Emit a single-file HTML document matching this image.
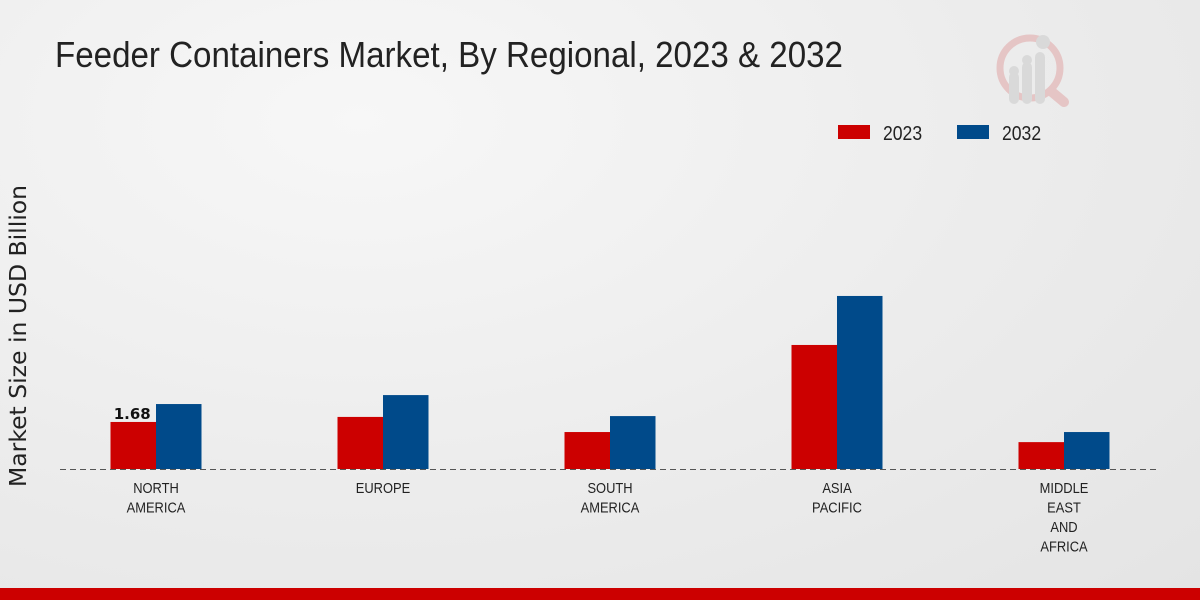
<!DOCTYPE html>
<html><head><meta charset="utf-8"><style>
html,body{margin:0;padding:0}
body{width:1200px;height:600px;overflow:hidden;background:radial-gradient(ellipse at 30% 20%,#f7f7f7 0%,#ececec 55%,#e4e4e4 100%);font-family:"Liberation Sans",sans-serif;position:relative}
#title{position:absolute;left:55px;top:34px;font-size:36px;color:#222;transform:scaleX(0.92);transform-origin:left top;white-space:nowrap}
#bottom{position:absolute;left:0;top:588px;width:1200px;height:12px;background:#cc0000}
svg{position:absolute;left:0;top:0}
</style></head><body>
<div id="title">Feeder Containers Market, By Regional, 2023 &amp; 2032</div>
<svg id="chart" width="1200" height="600">
<g opacity="0.5">
<circle cx="1030" cy="68" r="30" fill="none" stroke="#e0a0a0" stroke-width="7"/>
<line x1="1052" y1="92" x2="1064" y2="102" stroke="#e0a0a0" stroke-width="10" stroke-linecap="round"/>
<rect x="1009" y="72" width="10" height="32" rx="5" fill="#c8c8c8"/>
<rect x="1022" y="62" width="10" height="42" rx="5" fill="#c8c8c8"/>
<rect x="1035" y="52" width="10" height="52" rx="5" fill="#c8c8c8"/>
<circle cx="1014" cy="71" r="5" fill="#c8c8c8"/><circle cx="1027" cy="60" r="5" fill="#c8c8c8"/><circle cx="1043" cy="42" r="7" fill="#c8c8c8"/>
</g>
<text x="26" y="336" transform="rotate(-90 26 336)" text-anchor="middle" font-size="23.5" fill="#222" font-family="DejaVu Sans, sans-serif">Market Size in USD Billion</text>
<g>
<rect x="838" y="125" width="32" height="14" fill="#cc0000"/>
<text x="883" y="140" font-size="20" fill="#222" transform="translate(883 0) scale(0.88 1) translate(-883 0)">2023</text>
<rect x="957" y="125" width="32" height="14" fill="#004a8a"/>
<text x="1002" y="140" font-size="20" fill="#222" transform="translate(1002 0) scale(0.88 1) translate(-1002 0)">2032</text>
</g>
<g id="bars"></g>
<line x1="60" y1="469.5" x2="1160" y2="469.5" stroke="#555" stroke-dasharray="6,4"/>
<g id="labels"></g>
</svg>
<div id="bottom"></div>
<script>
const categories=[["NORTH","AMERICA"],["EUROPE"],["SOUTH","AMERICA"],["ASIA","PACIFIC"],["MIDDLE","EAST","AND","AFRICA"]];
const values2023=[1.68,1.86,1.32,4.43,0.96];
const values2032=[2.32,2.64,1.89,6.18,1.32];
const shownLabels=["1.68",null,null,null,null];
const ns="http://www.w3.org/2000/svg";
const base=469, pxPerUnit=28, x0=156, step=227, bw=45.5;
const y=v=>base-v*pxPerUnit;
const xc=i=>x0+i*step;
const bars=document.getElementById('bars'), labels=document.getElementById('labels');
categories.forEach((c,i)=>{
  [[values2023,"#cc0000",-bw,"2023"],[values2032,"#004a8a",0,"2032"]].forEach(([arr,col,off,s])=>{
    const r=document.createElementNS(ns,'rect');
    r.setAttribute('x',xc(i)+off);r.setAttribute('y',y(arr[i]));
    r.setAttribute('width',bw);r.setAttribute('height',base-y(arr[i]));r.setAttribute('fill',col);
    
    
    bars.appendChild(r);
  });
  if(shownLabels[i]){
    const t=document.createElementNS(ns,'text');
    t.setAttribute('x',xc(i)-bw/2-1);t.setAttribute('y',y(values2023[i])-3);
    t.setAttribute('text-anchor','middle');t.setAttribute('font-size','15');t.setAttribute('font-weight','bold');
    t.setAttribute('font-family','DejaVu Sans, sans-serif');t.setAttribute('fill','#111');
    t.textContent=shownLabels[i];
    
    
    bars.appendChild(t);
  }
  c.forEach((line,j)=>{
    const t=document.createElementNS(ns,'text');
    const cx=xc(i);
    t.setAttribute('x',cx);t.setAttribute('y',493+j*19.5);
    t.setAttribute('text-anchor','middle');t.setAttribute('font-size','15');t.setAttribute('fill','#222');
    t.setAttribute('transform','translate('+cx+' 0) scale(0.86 1) translate('+(-cx)+' 0)');
    t.textContent=line;
    
    
    labels.appendChild(t);
  });
});
</script>
</body></html>
